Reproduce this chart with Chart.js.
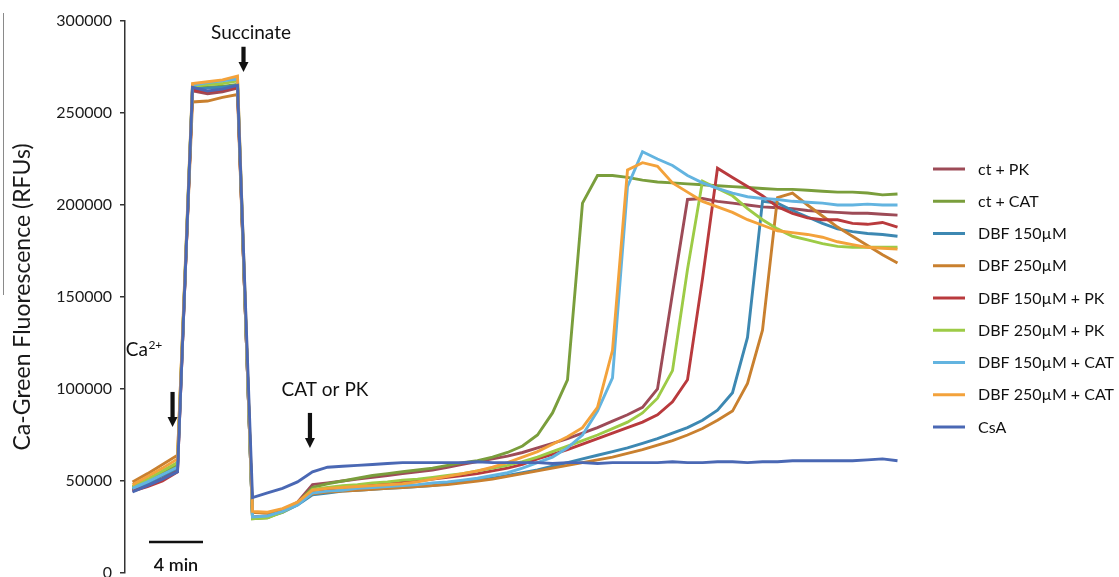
<!DOCTYPE html>
<html>
<head>
<meta charset="utf-8">
<title>Ca-Green fluorescence traces</title>
<script src="https://cdn.jsdelivr.net/npm/chart.js@4.4.1/dist/chart.umd.min.js"></script>
<style>
  html, body { margin: 0; padding: 0; background: #fff; }
  #wrap { position: relative; width: 1119px; height: 577px; }
  #rule { position: absolute; left: 3px; top: 13px; width: 0; height: 282px; border-left: 1.5px solid #8a8a8a; }
  canvas { position: absolute; left: 0; top: 0; }
</style>
</head>
<body>
<div id="wrap">
  <canvas id="chart" width="1119" height="577"></canvas>
  <div id="rule"></div>
</div>
<script>
// Time points of the recording (one reading per step)
const timePoints = Array.from({ length: 52 }, (_, i) => i);

// Fluorescence readings (RFUs) per condition
const ctPK = [
  45000, 48500, 51500, 56000,
  262000, 260500, 261500, 263500,
  30500, 31000, 34000, 38500,
  48000, 49000, 50000, 51000, 52000, 53000, 54000, 55000,
  56000, 57500, 59000, 60500, 62000, 63500, 65500, 68000,
  70500, 73000, 76000, 79000, 82500, 86000, 90000, 100000,
  152000, 203000, 203500, 202000, 201000, 200000, 199000, 198500,
  198000, 197000, 196500, 196000, 195500, 195500, 195000, 194500
];
const ctCAT = [
  46500, 50000, 54000, 58500,
  263500, 264000, 264500, 265500,
  29500, 30000, 33500, 38000,
  46500, 48500, 50000, 51500, 53000, 54000, 55000, 56000,
  57000, 58500, 60000, 61000, 63000, 65500, 69000, 75000,
  87000, 105000, 201000, 216000, 216000, 215000, 213500, 212500,
  212000, 211500, 211000, 210500, 210000, 209500, 209000, 208500,
  208500, 208000, 207500, 207000, 207000, 206500, 205500, 206000
];
const dbf150 = [
  45500, 49000, 53000, 57000,
  263000, 263500, 264000, 265000,
  30000, 30500, 33000, 37000,
  42500, 43500, 44500, 45000, 45500, 46000, 46500, 47000,
  47500, 48500, 49500, 50500, 51500, 53000, 54500, 56000,
  58000, 60000, 62000, 64000, 66000, 68000, 70500, 73000,
  76000, 79000, 83000, 88500, 98000, 128000, 202000, 201000,
  197000, 193500, 190000, 187000, 185500, 184500, 184000, 183000
];
const dbf250 = [
  49500, 54000, 59000, 64000,
  256000, 256500, 258500, 260000,
  33000, 32500, 34500, 38000,
  43000, 44000, 44500, 45000, 45500, 46000, 46500, 47000,
  47500, 48000, 49000, 50000, 51000, 52500, 54000, 55500,
  57000, 58500, 60000, 61500, 63000, 65000, 67000, 69500,
  72000, 75000, 78500, 83000, 88000, 103000, 132000, 204000,
  206500, 200000, 194000, 188000, 183000, 178000, 173000, 168500
];
const dbf150PK = [
  44500, 47000, 50000, 55000,
  262500, 261500, 262500, 264000,
  30000, 30500, 33500, 37500,
  44500, 45500, 46500, 47000, 48000, 48500, 49500, 50000,
  51000, 52000, 53000, 54000, 55500, 57000, 59000, 62000,
  64500, 67000, 70000, 73000, 76000, 79000, 82000, 86000,
  93000, 105000, 160000, 220000, 215000, 210000, 205000, 199000,
  195500, 193000, 192000, 192000, 190000, 189500, 190500, 188000
];
const dbf250PK = [
  47000, 51000, 55500, 60000,
  264500, 265500, 266000, 267500,
  29500, 30000, 33000, 37500,
  45500, 46500, 47500, 48000, 49000, 49500, 50500, 51000,
  52000, 53000, 54000, 55500, 57000, 58500, 60500, 63000,
  66000, 69000, 72000, 75000, 78500, 82000, 87000, 95000,
  110000, 165000, 213000, 209000, 205000, 198000, 192000, 187000,
  183000, 181000, 179000, 177500, 177000, 177000, 177000, 177000
];
const dbf150CAT = [
  46000, 49500, 53500, 57500,
  265000, 266500, 267500, 268500,
  30500, 31000, 33500, 37000,
  43500, 44500, 45000, 46000, 46500, 47000, 47500, 48000,
  49000, 49500, 50500, 51500, 53000, 54500, 57000, 60000,
  63000, 68000, 75000, 88000, 106000, 210000, 229000, 225000,
  221500, 216000, 212000, 209000, 206500, 204500, 203500, 203000,
  202000, 201500, 201000, 200000, 200000, 200500, 200000, 200000
];
const dbf250CAT = [
  48000, 52500, 57000, 62000,
  266000, 267000, 268000, 270000,
  33500, 33000, 35000, 38500,
  45000, 46000, 46500, 47000, 47500, 48000, 48500, 49500,
  51000, 52500, 54000, 55500, 57500, 60000, 63000, 66000,
  70000, 74000, 79000, 90000, 121000, 219000, 223000, 221000,
  212000, 207000, 202000, 199000, 196000, 192000, 189000, 186000,
  185000, 184000, 182500, 180000, 178500, 177000, 176500, 176000
];
const csa = [
  44000, 47500, 51000, 55000,
  264000, 262000, 263000, 265000,
  41000, 43500, 46000, 49500,
  55000, 57500, 58000, 58500, 59000, 59500, 60000, 60000,
  60000, 60000, 60000, 60500, 60000, 60000, 60000, 60000,
  59500, 60000, 60000, 59500, 60000, 60000, 60000, 60000,
  60500, 60000, 60000, 60500, 60500, 60000, 60500, 60500,
  61000, 61000, 61000, 61000, 61000, 61500, 62000, 61000
];

const seriesNames = ['ct + PK', 'ct + CAT', 'DBF 150µM', 'DBF 250µM', 'DBF 150µM + PK',
                     'DBF 250µM + PK', 'DBF 150µM + CAT', 'DBF 250µM + CAT', 'CsA'];
const seriesValues = [ctPK, ctCAT, dbf150, dbf250, dbf150PK, dbf250PK, dbf150CAT, dbf250CAT, csa];
const seriesColors = ['#9d4b57', '#7a9e3c', '#3d88b2', '#c9802f', '#b93a3d',
                      '#9dcb46', '#63b4e0', '#f3a23b', '#4a68b4'];

const yTicks = [0, 50000, 100000, 150000, 200000, 250000, 300000];

// Additions marked on the trace: label position and arrow (time index, value)
const additions = [
  { text: 'Succinate', tx: 7.9, ty: 293500, ax: 7.4, ayTop: 286000, ayTip: 272300 },
  { text: 'Ca', sup: '2+', tx: -0.45, ty: 121200, ax: 2.67, ayTop: 98400, ayTip: 79300 },
  { text: 'CAT or PK', tx: 12.83, ty: 99500, ax: 11.83, ayTop: 87000, ayTip: 67900 }
];
// 4 min time scale bar
const scaleBar = { from: 1.1, to: 4.7, y: 16850, text: '4 min', ty: 4350 };

const FONT = 'Lato, "Open Sans", "DejaVu Sans", sans-serif';

function drawArrow(ctx, x, yTop, yTip) {
  const headLen = 10, headHalf = 5, shaft = 4.2;
  ctx.fillStyle = '#111';
  ctx.fillRect(x - shaft / 2, yTop, shaft, (yTip - headLen) - yTop + 0.5);
  ctx.beginPath();
  ctx.moveTo(x - headHalf, yTip - headLen);
  ctx.lineTo(x + headHalf, yTip - headLen);
  ctx.lineTo(x, yTip);
  ctx.closePath();
  ctx.fill();
}

const annotationPlugin = {
  id: 'traceAnnotations',
  afterDraw(chart) {
    const { ctx } = chart;
    const xs = chart.scales.x, ys = chart.scales.y;
    ctx.save();
    ctx.fillStyle = '#111';
    ctx.textBaseline = 'middle';
    additions.forEach(a => {
      const tx = xs.getPixelForValue(a.tx), ty = ys.getPixelForValue(a.ty);
      ctx.font = '19px ' + FONT;
      ctx.fillStyle = '#111';
      if (a.sup) {
        ctx.textAlign = 'left';
        ctx.fillText(a.text, tx, ty);
        const w = ctx.measureText(a.text).width;
        ctx.font = '12px ' + FONT;
        ctx.fillText(a.sup, tx + w + 0.5, ty - 5);
      } else {
        ctx.textAlign = 'center';
        ctx.fillText(a.text, tx, ty);
      }
      drawArrow(ctx, xs.getPixelForValue(a.ax), ys.getPixelForValue(a.ayTop), ys.getPixelForValue(a.ayTip));
    });
    // time scale bar
    const by = ys.getPixelForValue(scaleBar.y);
    ctx.strokeStyle = '#111';
    ctx.lineWidth = 2.5;
    ctx.beginPath();
    ctx.moveTo(xs.getPixelForValue(scaleBar.from), by);
    ctx.lineTo(xs.getPixelForValue(scaleBar.to), by);
    ctx.stroke();
    ctx.font = '600 18px ' + FONT;
    ctx.textAlign = 'center';
    ctx.fillText(scaleBar.text, xs.getPixelForValue((scaleBar.from + scaleBar.to) / 2),
                 ys.getPixelForValue(scaleBar.ty));
    ctx.restore();
  }
};

// Legend column to the right of the plot
const legendPlugin = {
  id: 'sideLegend',
  afterDraw(chart) {
    const { ctx } = chart;
    const left = chart.chartArea.right + 28, top = 169, step = 32.25;
    ctx.save();
    ctx.font = '16px ' + FONT;
    ctx.textAlign = 'left';
    ctx.textBaseline = 'middle';
    chart.data.datasets.forEach((ds, i) => {
      const y = top + i * step;
      ctx.strokeStyle = ds.borderColor;
      ctx.lineWidth = 3;
      ctx.beginPath();
      ctx.moveTo(left, y);
      ctx.lineTo(left + 32, y);
      ctx.stroke();
      ctx.fillStyle = '#111';
      ctx.fillText(ds.label, left + 45, y + 0.5);
    });
    ctx.restore();
  }
};

new Chart(document.getElementById('chart'), {
  type: 'line',
  data: {
    labels: timePoints,
    datasets: seriesNames.map((name, i) => ({
      label: name,
      data: seriesValues[i],
      borderColor: seriesColors[i],
      backgroundColor: seriesColors[i],
      borderWidth: 2.9,
      pointRadius: 0,
      tension: 0,
      fill: false,
      order: seriesNames.length - i
    }))
  },
  options: {
    responsive: false,
    animation: false,
    layout: { padding: { top: 21, bottom: 4, left: 0, right: 214 } },
    plugins: { legend: { display: false }, tooltip: { enabled: false } },
    scales: {
      x: { type: 'category', display: false, offset: true },
      y: {
        min: 0, max: 300000,
        afterFit(scale) {
          scale.width = 125;
          scale.paddingTop = 0;
          scale.paddingBottom = 0;
        },
        afterBuildTicks(scale) { scale.ticks = yTicks.map(v => ({ value: v })); },
        ticks: {
          color: '#1a1a1a',
          padding: 8,
          font: { family: FONT, size: 16 },
          callback: v => String(v)
        },
        grid: { drawOnChartArea: false, drawTicks: true, tickLength: 5, color: '#333', lineWidth: 1.5 },
        border: { color: '#333', width: 1.5 },
        title: {
          display: true,
          text: 'Ca-Green Fluorescence (RFUs)',
          color: '#1a1a1a',
          font: { family: FONT, size: 23 },
          padding: { top: 9, bottom: 12 }
        }
      }
    }
  },
  plugins: [annotationPlugin, legendPlugin]
});
</script>
</body>
</html>
